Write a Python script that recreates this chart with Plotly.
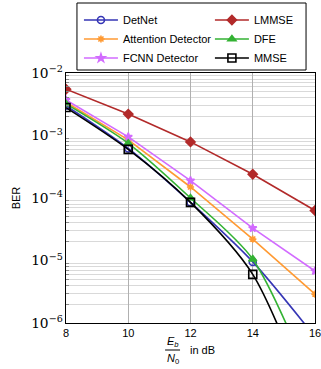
import plotly.graph_objects as go

snr = [8, 10, 12, 14, 16]
detnet = [3.0e-3, 6.2e-4, 8.5e-5, 9.5e-6, 6.0e-7]
lmmse = [5.5e-3, 2.2e-3, 7.9e-4, 2.4e-4, 6.3e-5]
attention = [3.4e-3, 8.5e-4, 1.5e-4, 2.2e-5, 2.9e-6]
dfe = [3.2e-3, 7.5e-4, 1.0e-4, 1.05e-5, 8.0e-8]
fcnn = [3.7e-3, 9.5e-4, 1.9e-4, 3.3e-5, 6.8e-6]
mmse = [2.8e-3, 6.0e-4, 8.5e-5, 6.0e-6, 3.0e-8]

series = [
    ("DetNet", detnet, "#3535b5", "circle-open", 7, "spline", "legend"),
    ("Attention Detector", attention, "#ff9a33", "asterisk-open", 6, "linear", "legend"),
    ("FCNN Detector", fcnn, "#d26bff", "star", 6, "linear", "legend"),
    ("LMMSE", lmmse, "#b22a2a", "diamond", 7, "linear", "legend2"),
    ("DFE", dfe, "#33b233", "triangle-up", 7, "spline", "legend2"),
    ("MMSE", mmse, "#000000", "square-open", 8, "spline", "legend2"),
]

fig = go.Figure()
for name, vals, col, sym, sz, shape, lg in series:
    fig.add_trace(go.Scatter(
        x=snr, y=vals, name=name, mode="lines+markers", legend=lg,
        line=dict(color=col, width=1.6, shape=shape, smoothing=0.8),
        marker=dict(symbol=sym, size=sz, color=col, line=dict(color=col, width=1.6)),
        cliponaxis=True,
    ))

legend_common = dict(orientation="v", xanchor="left", yanchor="top", bgcolor="rgba(0,0,0,0)",
                     borderwidth=0, font=dict(size=11), tracegroupgap=0, itemwidth=34)

fig.update_layout(
    width=321, height=369,
    margin=dict(l=66, r=6, t=73, b=46, autoexpand=False),
    paper_bgcolor="white", plot_bgcolor="white",
    font=dict(family="Liberation Sans", size=11, color="black"),
    showlegend=True,
    legend=dict(x=0.052, y=1.27, **legend_common),
    legend2=dict(x=0.578, y=1.27, **legend_common),
    xaxis=dict(
        range=[8, 16], tickvals=snr, ticktext=[str(v) for v in snr],
        showgrid=True, gridcolor="#b0b0b0", gridwidth=1,
        showline=True, linecolor="black", linewidth=1, mirror=True,
        ticks="", zeroline=False, ticklabeloverflow="allow",
    ),
    yaxis=dict(
        type="log", range=[-6, -2], dtick=1, exponentformat="power",
        showgrid=False,
        minor=dict(showgrid=True, gridcolor="#d9d9d9", dtick="D1", ticks="inside", ticklen=3, tickcolor="#888"),
        showline=True, linecolor="black", linewidth=1, mirror=True,
        ticks="", zeroline=False,
        tickfont=dict(family="DejaVu Serif", size=11),
        title=dict(text="BER", font=dict(size=11), standoff=8),
    ),
)

# legend frame
fig.add_shape(type="rect", xref="paper", yref="paper", x0=0.044, x1=0.964, y0=1.012, y1=1.28,
              line=dict(color="black", width=1), fillcolor="rgba(0,0,0,0)")

# x axis title as fraction
fy = -0.108
fig.add_annotation(xref="paper", yref="paper", x=0.428, y=fy + 0.002, text="<i>E<sub>b</sub></i>",
                   showarrow=False, xanchor="center", yanchor="bottom", font=dict(size=11),
                   borderpad=0)
fig.add_annotation(xref="paper", yref="paper", x=0.428, y=fy - 0.002, text="<i>N</i><sub>0</sub>",
                   showarrow=False, xanchor="center", yanchor="top", font=dict(size=11),
                   borderpad=0)
fig.add_shape(type="line", xref="paper", yref="paper", x0=0.398, x1=0.458, y0=fy, y1=fy,
              line=dict(color="black", width=1))
fig.add_annotation(xref="paper", yref="paper", x=0.49, y=fy, text="in dB",
                   showarrow=False, xanchor="left", yanchor="middle", font=dict(size=11))

fig.write_html("out.html", config={"displayModeBar": False},
               post_script="document.body.style.margin='0';")
